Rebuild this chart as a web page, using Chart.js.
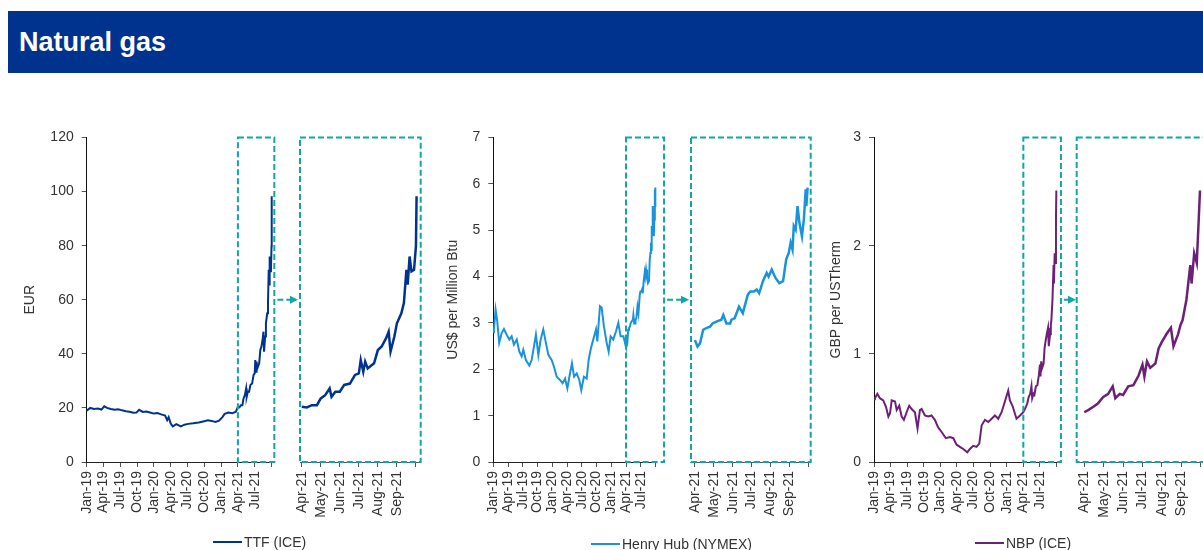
<!DOCTYPE html>
<html lang="en">
<head>
    <meta charset="UTF-8">
    <title>Natural gas</title>
    <script src="https://cdn.jsdelivr.net/npm/chart.js"></script>
    <style>
        body {
            margin: 0;
            width: 1203px;
            height: 550px;
            overflow: hidden;
            background: #ffffff;
            font-family: "Liberation Sans", Arial, sans-serif;
            position: relative;
        }
        .banner {
            position: absolute;
            left: 8px;
            top: 11px;
            width: 1200px;
            height: 62px;
            background: #00338d;
            color: #ffffff;
            font-weight: bold;
            font-size: 27px;
            line-height: 62px;
            padding-left: 11px;
            box-sizing: border-box;
        }
        canvas {
            position: absolute;
        }
        .legend {
            position: absolute;
            font-size: 14px;
            color: #333333;
            display: flex;
            align-items: center;
            white-space: nowrap;
        }
        .legend span.swatch {
            display: inline-block;
            width: 29px;
            height: 2px;
            margin-right: 2px;
        }
    </style>
</head>
<body>
    <div class="banner">Natural gas</div>

    <canvas id="ttfMain" style="left:0px;top:120px" width="300" height="430"></canvas>
    <canvas id="ttfZoom" style="left:290px;top:120px" width="140" height="430"></canvas>
    <canvas id="hhMain" style="left:430px;top:120px" width="260" height="430"></canvas>
    <canvas id="hhZoom" style="left:681px;top:120px" width="140" height="430"></canvas>
    <canvas id="nbpMain" style="left:820px;top:120px" width="257" height="430"></canvas>
    <canvas id="nbpZoom" style="left:1067px;top:120px" width="143" height="430"></canvas>

    <div class="legend" style="left:213px;top:534px"><span class="swatch" style="background:#00338d"></span>TTF (ICE)</div>
    <div class="legend" style="left:591px;top:536px"><span class="swatch" style="background:#1a93dc"></span>Henry Hub (NYMEX)</div>
    <div class="legend" style="left:975px;top:535px"><span class="swatch" style="background:#6d2077"></span>NBP (ICE)</div>

    <script>
        const TEAL = '#10a6a6';
        const MONTHS = ['Jan', 'Feb', 'Mar', 'Apr', 'May', 'Jun', 'Jul', 'Aug', 'Sep', 'Oct', 'Nov', 'Dec'];

        // TTF (ICE), EUR
        const ttfDates = [
            '2019-01-01', '2019-01-20', '2019-02-10', '2019-03-01', '2019-03-20', '2019-04-05', '2019-04-20',
            '2019-05-10', '2019-06-01', '2019-06-20', '2019-07-10', '2019-08-01', '2019-08-20', '2019-09-10',
            '2019-09-28', '2019-10-12', '2019-11-01', '2019-11-20', '2019-12-10', '2020-01-01', '2020-01-20',
            '2020-02-10', '2020-03-01', '2020-03-12', '2020-03-20', '2020-04-01', '2020-04-12', '2020-05-01',
            '2020-05-25', '2020-06-15', '2020-07-05', '2020-08-01', '2020-09-01', '2020-10-01', '2020-10-20',
            '2020-11-10', '2020-12-01', '2020-12-20', '2021-01-08', '2021-01-20', '2021-02-10', '2021-03-01',
            '2021-03-20',
            '2021-04-01', '2021-04-09', '2021-04-17', '2021-04-25', '2021-05-01', '2021-05-08', '2021-05-15',
            '2021-05-18', '2021-05-24', '2021-06-01', '2021-06-08', '2021-06-17', '2021-06-25', '2021-07-01',
            '2021-07-04', '2021-07-08', '2021-07-11', '2021-07-15', '2021-07-25', '2021-08-01', '2021-08-07',
            '2021-08-14', '2021-08-18', '2021-08-21', '2021-08-27', '2021-09-01', '2021-09-08', '2021-09-12',
            '2021-09-16', '2021-09-18', '2021-09-21', '2021-09-24', '2021-09-28', '2021-10-01', '2021-10-02'
        ];
        const ttfValues = [
            19.0, 20.0, 19.6, 19.8, 19.4, 20.6, 20.0,
            19.6, 19.3, 19.5, 19.1, 18.8, 18.6, 18.2,
            18.3, 19.3, 18.5, 18.7, 18.3, 17.9, 18.1,
            17.6, 17.2, 15.5, 16.6, 14.2, 13.2, 14.0,
            13.2, 13.8, 14.1, 14.3, 14.6, 15.1, 15.4,
            15.2, 14.8, 15.3, 16.6, 17.8, 18.3, 18.0,
            18.6,
            20.4, 20.2, 21.0, 21.0, 23.5, 24.7, 27.2,
            24.1, 26.0, 26.0, 28.5, 29.0, 32.2, 32.8,
            37.7, 33.4, 37.1, 34.6, 36.5, 41.4, 42.7,
            45.8, 48.2, 40.8, 46.4, 51.3, 55.0, 58.8,
            71.1, 65.6, 76.0, 70.5, 71.1, 79.8, 98.3
        ];

        // Henry Hub (NYMEX), US$ per Million Btu
        const hhDates = [
            '2019-01-01', '2019-01-05', '2019-01-15', '2019-01-25', '2019-02-07', '2019-02-22', '2019-03-06',
            '2019-03-22', '2019-04-09', '2019-04-23', '2019-05-07', '2019-05-24', '2019-06-10', '2019-06-24',
            '2019-07-04', '2019-07-20', '2019-08-11', '2019-08-25', '2019-09-09', '2019-09-21', '2019-10-06',
            '2019-10-20', '2019-11-06', '2019-11-22', '2019-12-07', '2019-12-27', '2020-01-11', '2020-01-28',
            '2020-02-18', '2020-03-04', '2020-03-19', '2020-04-03', '2020-04-19', '2020-05-01', '2020-05-14',
            '2020-05-30', '2020-06-16', '2020-06-28', '2020-07-14', '2020-08-01', '2020-08-13', '2020-08-27',
            '2020-09-11', '2020-09-28', '2020-10-06', '2020-10-22', '2020-11-02', '2020-11-16', '2020-12-03',
            '2020-12-15', '2020-12-27', '2021-01-13', '2021-01-30', '2021-02-14', '2021-02-28', '2021-03-15',
            '2021-03-30',
            '2021-04-01', '2021-04-05', '2021-04-09', '2021-04-14', '2021-04-19', '2021-04-25', '2021-04-29',
            '2021-05-05', '2021-05-13', '2021-05-16', '2021-05-21', '2021-05-27', '2021-05-29', '2021-06-04',
            '2021-06-11', '2021-06-17', '2021-06-25', '2021-06-29', '2021-07-05', '2021-07-09', '2021-07-13',
            '2021-07-19', '2021-07-25', '2021-07-28', '2021-08-03', '2021-08-09', '2021-08-15', '2021-08-21',
            '2021-08-26', '2021-08-30', '2021-09-03', '2021-09-06', '2021-09-08', '2021-09-11', '2021-09-14',
            '2021-09-17', '2021-09-21', '2021-09-24', '2021-09-27', '2021-09-28', '2021-09-30'
        ];
        const hhValues = [
            2.80, 2.86, 3.29, 3.04, 2.57, 2.78, 2.87,
            2.75, 2.64, 2.71, 2.53, 2.64, 2.38, 2.28,
            2.42, 2.20, 2.08, 2.20, 2.49, 2.75, 2.31,
            2.64, 2.86, 2.57, 2.31, 2.20, 2.06, 1.84,
            1.77, 1.70, 1.80, 1.59, 1.91, 2.13, 1.84,
            1.91, 1.77, 1.55, 1.84, 1.80, 2.20, 2.46,
            2.64, 2.86, 2.60, 3.36, 3.33, 2.93, 2.57,
            2.38, 2.71, 2.64, 2.82, 3.00, 2.71, 2.71,
            2.49,
            2.63, 2.49, 2.56, 2.85, 2.89, 2.92, 2.99,
            3.03, 3.07, 3.17, 2.99, 2.99, 3.07, 3.10,
            3.35, 3.21, 3.61, 3.68, 3.68, 3.72, 3.64,
            3.90, 4.08, 4.00, 4.15, 3.97, 3.86, 3.90,
            4.37, 4.51, 4.73, 4.58, 5.09, 5.01, 5.52,
            5.16, 4.87, 5.23, 5.88, 5.52, 5.92
        ];

        // NBP (ICE), GBP per USTherm
        const nbpDates = [
            '2019-01-01', '2019-01-06', '2019-01-19', '2019-02-03', '2019-02-21', '2019-03-06', '2019-03-19',
            '2019-03-28', '2019-04-07', '2019-04-25', '2019-05-04', '2019-05-18', '2019-06-01', '2019-06-13',
            '2019-06-28', '2019-07-12', '2019-07-25', '2019-08-13', '2019-08-27', '2019-09-10', '2019-09-19',
            '2019-10-07', '2019-10-25', '2019-11-13', '2019-12-01', '2019-12-19', '2020-01-07', '2020-02-01',
            '2020-02-22', '2020-03-11', '2020-03-29', '2020-04-17', '2020-05-05', '2020-05-27', '2020-06-11',
            '2020-06-29', '2020-07-17', '2020-08-02', '2020-08-15', '2020-09-03', '2020-09-21', '2020-10-09',
            '2020-10-27', '2020-11-15', '2020-12-03', '2020-12-21', '2021-01-09', '2021-01-18', '2021-02-02',
            '2021-02-24', '2021-03-13',
            '2021-04-01', '2021-04-07', '2021-04-15', '2021-04-22', '2021-04-30', '2021-05-08', '2021-05-15',
            '2021-05-19', '2021-05-26', '2021-06-01', '2021-06-09', '2021-06-17', '2021-06-25', '2021-07-01',
            '2021-07-04', '2021-07-08', '2021-07-13', '2021-07-21', '2021-07-26', '2021-08-01', '2021-08-09',
            '2021-08-15', '2021-08-19', '2021-08-26', '2021-08-30', '2021-09-03', '2021-09-09', '2021-09-15',
            '2021-09-17', '2021-09-21', '2021-09-25', '2021-09-28', '2021-09-30'
        ];
        const nbpValues = [
            0.58, 0.59, 0.63, 0.59, 0.57, 0.51, 0.42,
            0.45, 0.57, 0.56, 0.48, 0.52, 0.42, 0.39,
            0.46, 0.52, 0.49, 0.46, 0.31, 0.48, 0.49,
            0.43, 0.42, 0.43, 0.39, 0.32, 0.28, 0.22,
            0.23, 0.22, 0.16, 0.14, 0.12, 0.09, 0.12,
            0.15, 0.14, 0.17, 0.34, 0.39, 0.37, 0.40,
            0.43, 0.40, 0.46, 0.56, 0.66, 0.57, 0.52,
            0.40, 0.43,
            0.46, 0.48, 0.51, 0.54, 0.60, 0.63, 0.70,
            0.59, 0.63, 0.62, 0.70, 0.71, 0.80, 0.90,
            0.79, 0.93, 0.87, 0.91, 1.05, 1.11, 1.19,
            1.24, 1.07, 1.18, 1.27, 1.31, 1.50, 1.82,
            1.65, 1.93, 1.84, 2.24, 2.51
        ];

        // months since Jan-19
        function toMonth(s) {
            const [y, m, d] = s.split('-').map(Number);
            return (y - 2019) * 12 + (m - 1) + (d - 1) / 30;
        }

        function monthLabel(v) {
            return MONTHS[v % 12] + '-' + (19 + Math.floor(v / 12));
        }

        function points(dates, values, fromMonth) {
            return dates.map((d, i) => ({ x: toMonth(d), y: values[i] }))
                .filter(p => p.x >= fromMonth);
        }

        // dashed zoom box, plus the arrow pointing to the zoomed chart
        const zoomBox = {
            id: 'zoomBox',
            afterDraw(chart, args, opts) {
                const { ctx, chartArea, scales } = chart;
                const x0 = scales.x.getPixelForValue(opts.from);
                const x1 = scales.x.getPixelForValue(opts.to);
                ctx.save();
                ctx.strokeStyle = TEAL;
                ctx.lineWidth = 2;
                ctx.setLineDash([6, 3]);
                ctx.strokeRect(x0, chartArea.top, x1 - x0, chartArea.bottom - chartArea.top);
                if (opts.arrowTo) {
                    const y = (chartArea.top + chartArea.bottom) / 2;
                    ctx.beginPath();
                    ctx.moveTo(x1 + 3, y);
                    ctx.lineTo(opts.arrowTo - 6, y);
                    ctx.stroke();
                    ctx.setLineDash([]);
                    ctx.fillStyle = TEAL;
                    ctx.beginPath();
                    ctx.moveTo(opts.arrowTo, y);
                    ctx.lineTo(opts.arrowTo - 8, y - 4);
                    ctx.lineTo(opts.arrowTo - 8, y + 4);
                    ctx.closePath();
                    ctx.fill();
                }
                ctx.restore();
            }
        };

        const tickFont = { family: '"Liberation Sans", Arial, sans-serif', size: 14 };

        function makeChart(id, opts) {
            const main = !opts.zoom;
            const tickList = [];
            for (let v = opts.firstTick; v <= opts.lastTick; v += opts.tickStep) tickList.push(v);

            new Chart(document.getElementById(id), {
                type: 'line',
                data: {
                    datasets: [{
                        data: opts.data,
                        borderColor: opts.color,
                        borderWidth: main ? 2 : 2.5,
                        pointRadius: 0,
                        tension: 0,
                        fill: false,
                        clip: 6
                    }]
                },
                options: {
                    responsive: false,
                    animation: false,
                    events: [],
                    layout: {
                        autoPadding: false,
                        padding: { top: 17.5, left: opts.padLeft, right: opts.padRight, bottom: 0 }
                    },
                    plugins: {
                        legend: { display: false },
                        tooltip: { enabled: false },
                        zoomBox: { from: opts.boxFrom, to: opts.boxTo, arrowTo: opts.arrowTo }
                    },
                    scales: {
                        x: {
                            type: 'linear',
                            min: opts.xMin,
                            max: opts.xMax,
                            afterBuildTicks: s => { s.ticks = tickList.map(v => ({ value: v })); },
                            afterFit: s => {
                                s.height = 88;
                                s.paddingLeft = 0;
                                s.paddingRight = 0;
                            },
                            border: { display: true, color: main ? '#222' : '#555', width: 1 },
                            grid: { drawOnChartArea: false, drawTicks: true, tickLength: 5, color: '#555' },
                            ticks: {
                                autoSkip: false,
                                minRotation: 90,
                                maxRotation: 90,
                                padding: 4,
                                color: '#333',
                                font: tickFont,
                                callback: v => (v === opts.lastTick ? '' : monthLabel(v))
                            }
                        },
                        y: {
                            display: main,
                            min: 0,
                            max: opts.yMax,
                            afterFit: s => {
                                s.width = opts.yWidth || 0;
                                s.paddingTop = 0;
                                s.paddingBottom = 0;
                            },
                            border: { display: true, color: '#111', width: 1 },
                            grid: { drawOnChartArea: false, drawTicks: true, tickLength: 5, color: '#555' },
                            ticks: { stepSize: opts.yStep, padding: 8, color: '#333', font: tickFont },
                            title: {
                                display: true,
                                text: opts.yTitle,
                                color: '#333',
                                font: tickFont,
                                padding: { top: opts.titlePad || 0, bottom: 0 }
                            }
                        }
                    }
                },
                plugins: [zoomBox]
            });
        }

        // TTF
        makeChart('ttfMain', {
            data: points(ttfDates, ttfValues, 0), color: '#00338d',
            xMin: 0, xMax: 33.05, firstTick: 0, lastTick: 33, tickStep: 3,
            yMax: 120, yStep: 20, yTitle: 'EUR', yWidth: 86.7, titlePad: 21.6,
            padLeft: 0, padRight: 28.2, boxFrom: 27, boxTo: 33.5, arrowTo: 298
        });
        makeChart('ttfZoom', {
            zoom: true, data: points(ttfDates, ttfValues, 26.99), color: '#00338d',
            xMin: 26.91, xMax: 33.25, firstTick: 27, lastTick: 33, tickStep: 1,
            yMax: 120, yStep: 20, padLeft: 10, padRight: 9.3, boxFrom: 26.91, boxTo: 33.25
        });

        // Henry Hub
        makeChart('hhMain', {
            data: points(hhDates, hhValues, 0), color: '#1a93dc',
            xMin: 0, xMax: 33.05, firstTick: 0, lastTick: 33, tickStep: 3,
            yMax: 7, yStep: 1, yTitle: 'US$ per Million Btu', yWidth: 63.3, titlePad: 14.6,
            padLeft: 0, padRight: 34.25, boxFrom: 27, boxTo: 34.74, arrowTo: 259
        });
        makeChart('hhZoom', {
            zoom: true, data: points(hhDates, hhValues, 26.99), color: '#1a93dc',
            xMin: 26.79, xMax: 33.13, firstTick: 27, lastTick: 33, tickStep: 1,
            yMax: 7, yStep: 1, padLeft: 10, padRight: 10.3, boxFrom: 26.79, boxTo: 33.13
        });

        // NBP
        makeChart('nbpMain', {
            data: points(nbpDates, nbpValues, 0), color: '#6d2077',
            xMin: 0, xMax: 33.05, firstTick: 0, lastTick: 33, tickStep: 3,
            yMax: 3, yStep: 1, yTitle: 'GBP per USTherm', yWidth: 54, titlePad: 7.6,
            padLeft: 0, padRight: 20.2, boxFrom: 27, boxTo: 33.8, arrowTo: 256
        });
        makeChart('nbpZoom', {
            zoom: true, data: points(nbpDates, nbpValues, 26.99), color: '#6d2077',
            xMin: 26.61, xMax: 33.4, firstTick: 27, lastTick: 33, tickStep: 1,
            yMax: 3, yStep: 1, padLeft: 9.7, padRight: 1.6, boxFrom: 26.61, boxTo: 33.4
        });
    </script>
</body>
</html>
